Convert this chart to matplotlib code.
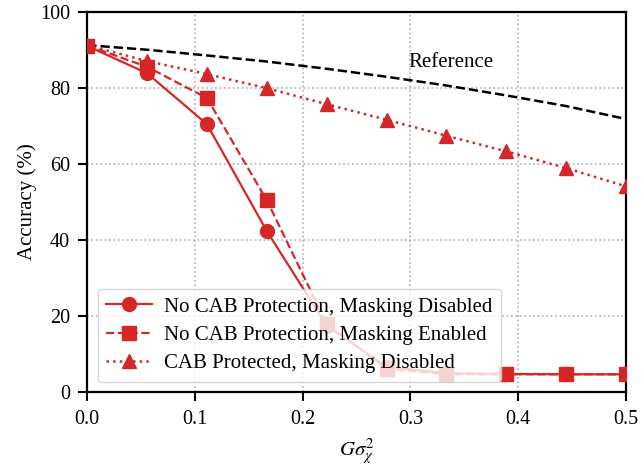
import numpy as np
import matplotlib
matplotlib.use("Agg")
import matplotlib.pyplot as plt

plt.rcParams['font.family'] = ['Liberation Serif', 'DejaVu Serif']
plt.rcParams['mathtext.fontset'] = 'stix'

# noise levels G*sigma^2
g_sigma = [0.0, 0.0556, 0.1111, 0.1667, 0.2222, 0.2778, 0.3333, 0.3889, 0.4444, 0.5]

acc_reference = [91.2, 90.0, 88.5, 86.9, 85.0, 82.9, 80.6, 78.0, 75.2, 71.8]
acc_no_cab_nomask = [91.0, 83.8, 70.4, 42.3, 17.5, 6.6, 5.0, 4.8, 4.7, 4.7]
acc_no_cab_mask = [91.1, 85.5, 77.3, 50.4, 18.0, 6.2, 4.7, 4.7, 4.7, 4.7]
acc_cab = [91.2, 87.0, 83.6, 79.9, 75.7, 71.6, 67.4, 63.3, 58.9, 54.1]

labels = ['No CAB Protection, Masking Disabled',
          'No CAB Protection, Masking Enabled',
          'CAB Protected, Masking Disabled']

red = '#d62728'

fig = plt.figure(figsize=(6.42, 4.68), dpi=100)
ax = fig.add_axes([0.136, 0.162, 0.839, 0.813])

ax.plot(g_sigma, acc_reference, '--', color='black', lw=1.8, zorder=2)
ax.plot(g_sigma, acc_no_cab_nomask, '-', marker='o', color=red, lw=1.6, ms=10, label=labels[0], zorder=3)
ax.plot(g_sigma, acc_no_cab_mask, '--', marker='s', color=red, lw=1.6, ms=10, label=labels[1], zorder=3)
ax.plot(g_sigma, acc_cab, ':', marker='^', color=red, lw=1.8, ms=10, label=labels[2], zorder=3)

ax.text(0.338, 86.6, 'Reference', ha='center', va='center', fontsize=15)

ax.set_xlim(0, 0.5)
ax.set_ylim(0, 100)
ax.set_xticks([0.0, 0.1, 0.2, 0.3, 0.4, 0.5])
ax.set_yticks([0, 20, 40, 60, 80, 100])
ax.grid(True, linestyle=':', color='#b0b0b0', lw=1.2)
ax.set_axisbelow(True)
ax.tick_params(labelsize=14.5, width=1.5, length=6.5, pad=6)
for s in ax.spines.values():
    s.set_linewidth(1.6)

ax.set_xlabel(r'$G\sigma_\chi^2$', fontsize=15, labelpad=6)
ax.set_ylabel('Accuracy (%)', fontsize=15, labelpad=2)
ax.legend(loc='lower left', fontsize=15, handlelength=2.2, handletextpad=0.6,
          labelspacing=0.42, borderaxespad=0.5)

fig.savefig('out.png', dpi=100)
